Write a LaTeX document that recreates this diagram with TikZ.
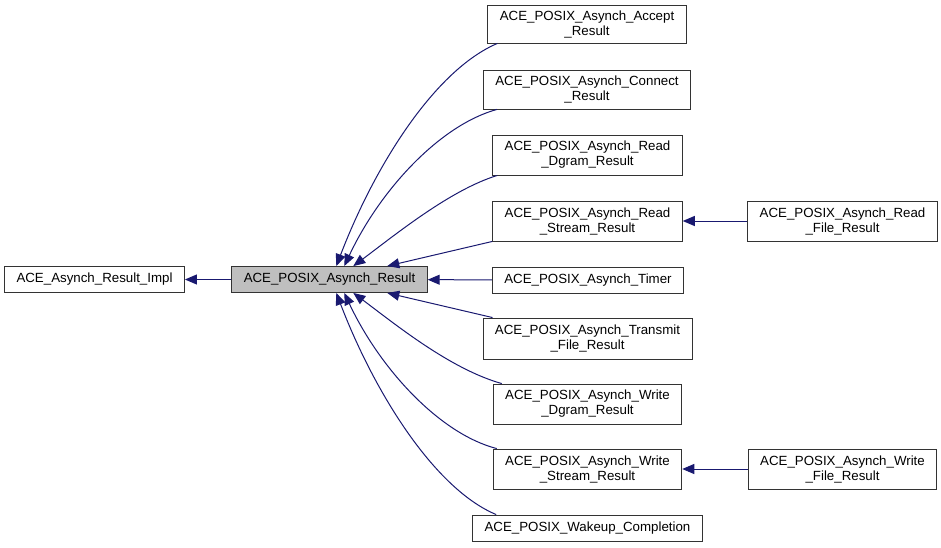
\documentclass[tikz,border=0pt]{standalone}
\usepackage{fontspec}
\setmainfont{Liberation Sans}
\usepackage{tikz}
\usetikzlibrary{arrows.meta, positioning}
\definecolor{edgeblue}{RGB}{25, 25, 112}
\definecolor{boxgray}{RGB}{191, 191, 191}
\tikzset{
  cls/.style={rectangle, draw=black!80, line width=0.9pt, minimum height=26pt, inner xsep=12pt, inner ysep=3pt, align=center, font=\fontsize{13.3}{15}\selectfont},
  cls2/.style={cls, minimum height=40pt},
  inh/.style={{Triangle[length=12pt,width=10pt]}-, draw=edgeblue, line width=1pt}
}

\begin{document}
\begin{tikzpicture}[x=1pt, y=-1pt]
    \useasboundingbox (0,0) rectangle (941,547);

    % Basisklassen
    \node[cls] (impl) at (94.5, 279.5) {ACE\_Asynch\_Result\_Impl};
    \node[cls, fill=boxgray] (res) at (329.5, 279.5) {ACE\_POSIX\_Asynch\_Result};
    \draw[inh] (impl) -- (res);

    % abgeleitete Klassen
    \node[cls2, minimum height=38pt] (acc) at (587, 24) {ACE\_POSIX\_Asynch\_Accept\\\_Result};
    \node[cls2, minimum height=39pt] (con) at (587, 89.5) {ACE\_POSIX\_Asynch\_Connect\\\_Result};
    \node[cls2] (rdg) at (587.5, 155) {ACE\_POSIX\_Asynch\_Read\\\_Dgram\_Result};
    \node[cls2] (rst) at (587.5, 221) {ACE\_POSIX\_Asynch\_Read\\\_Stream\_Result};
    \node[cls] (tim) at (588, 280) {ACE\_POSIX\_Asynch\_Timer};
    \node[cls2, minimum height=41pt] (tra) at (587.5, 338.5) {ACE\_POSIX\_Asynch\_Transmit\\\_File\_Result};
    \node[cls2] (wdg) at (587.5, 404) {ACE\_POSIX\_Asynch\_Write\\\_Dgram\_Result};
    \node[cls2] (wst) at (587.5, 469) {ACE\_POSIX\_Asynch\_Write\\\_Stream\_Result};
    \node[cls] (wak) at (587.5, 528) {ACE\_POSIX\_Wakeup\_Completion};

    % zweite Ebene
    \node[cls2] (rfi) at (842.5, 221) {ACE\_POSIX\_Asynch\_Read\\\_File\_Result};
    \node[cls2] (wfi) at (842.5, 469) {ACE\_POSIX\_Asynch\_Write\\\_File\_Result};

    % Vererbung oben
    \draw[inh] ([xshift=105pt]res.north west) .. controls (375,165) and (435,70) .. ([xshift=10pt]acc.south west);
    \draw[inh] ([xshift=113pt]res.north west) .. controls (380,190) and (440,125) .. ([xshift=14pt]con.south west);
    \draw[inh] ([xshift=122pt]res.north west) .. controls (395,235) and (450,190) .. ([xshift=5pt]rdg.south west);
    \draw[inh] ([xshift=156pt]res.north west) -- (rst.south west);
    \draw[inh] (res) -- (tim);

    % Vererbung unten
    \draw[inh] ([xshift=156pt]res.south west) -- ([xshift=10pt]tra.north west);
    \draw[inh] ([xshift=122pt]res.south west) .. controls (395,324) and (450,369) .. ([xshift=9pt]wdg.north west);
    \draw[inh] ([xshift=113pt]res.south west) .. controls (380,369) and (440,434) .. ([xshift=4pt]wst.north west);
    \draw[inh] ([xshift=105pt]res.south west) .. controls (375,394) and (435,489) .. ([xshift=24pt]wak.north west);

    \draw[inh] (rst) -- (rfi);
    \draw[inh] (wst) -- (wfi);
\end{tikzpicture}
\end{document}
